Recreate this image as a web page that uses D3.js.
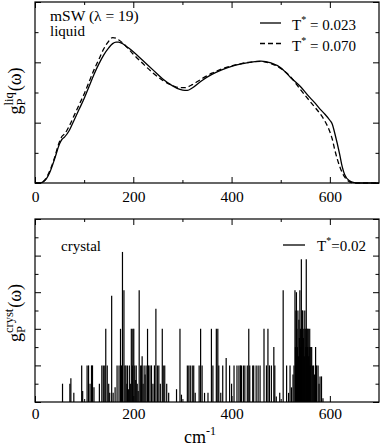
<!DOCTYPE html>
<html><head><meta charset="utf-8">
<script src="https://cdn.jsdelivr.net/npm/d3@7"></script>
<style>
body{margin:0;background:#fff}
svg text{font-family:"Liberation Serif","DejaVu Serif",serif !important;fill:#000}
</style>
</head><body>
<svg id="c" width="382" height="447"></svg>
<script>
// ---------- DATA ----------
const xTickLabels = [0, 200, 400, 600];
const xMinorTicks = [100, 300, 500];

// liquid panel: frequency grid (cm^-1) and two temperature curves
const liqFreq = [0,10,20,30,40,50,55,60,70,80,90,100,110,120,130,140,150,158,165,170,
  180,190,200,220,240,260,280,295,305,310,320,340,360,380,400,420,440,460,480,500,
  520,540,560,570,580,590,600,605,610,620,625,630,640,650,655,660,700];
const liqT0023 = [0,0,0.08,0.35,0.8,1.3,1.45,1.52,1.75,2.1,2.45,2.8,3.2,3.6,3.95,4.25,4.48,4.62,4.67,4.67,
  4.6,4.48,4.35,4.05,3.75,3.45,3.22,3.1,3.07,3.07,3.15,3.4,3.6,3.75,3.87,3.95,4.01,4.04,3.98,3.82,
  3.5,3.2,2.82,2.65,2.45,2.28,2.08,1.95,1.65,0.95,0.55,0.28,0.07,0.01,0,0,0];
const liqT0070 = [0,0,0.1,0.4,0.85,1.38,1.55,1.62,1.9,2.25,2.6,2.95,3.35,3.75,4.1,4.45,4.7,4.82,4.8,4.75,
  4.62,4.45,4.27,3.95,3.65,3.4,3.23,3.16,3.16,3.18,3.26,3.46,3.64,3.78,3.88,3.96,4.01,4.03,3.96,3.8,
  3.52,3.1,2.7,2.5,2.3,2.05,1.7,1.45,1.1,0.55,0.35,0.2,0.04,0,0,0,0];

// crystal panel: spike positions (cm^-1) and heights
const crystFreq = [56,71,73,79,95,97,106,109,112,115,117,120,131,136,139,142,144,147,150,152,
  156,159,163,167,171,174,176,178,181,183,185,187,188,190,192,194,196,198,199,201,
  203,205,206,208,210,212,215,217,218,220,222,224,226,229,231,234,237,240,243,246,
  249,252,255,259,261,264,268,272,288,295,298,310,313,316,320,323,326,334,337,340,
  345,352,359,362,369,372,374,378,382,389,396,400,405,411,415,418,420,424,427,432,
  435,437,443,445,450,454,458,466,471,474,477,481,486,488,491,498,505,512,516,519,
  522,525,527,529,530,531,532,533,534,535,536,537,538,539,540,541,542,543,544,545,
  546,547,548,549,550,551,552,553,554,555,556,557,558,559,560,561,563,565,567,569,
  571,573,576,578,580,583,586];
const crystCount = [1,1,1.3,0.5,2,0.6,2,2,1,2,2,0.8,1,2,2,2,4,2,1,0.5,
  5.8,0.5,0.8,2,2,4,2,8.2,6.1,2,2,1,2,0.7,2,1,4,2,4,4,
  2,1.2,2,1,0.6,6.1,2,2,2.5,1,2,1.5,2,4,2,2,2,1,2,5.1,
  2,2,1,4,2,2,1,0.5,0.7,4,0.4,2,2,2,2,2,0.5,2,4,2,
  0.5,0.5,4,2,4,4,2,0.5,2,2.4,2,1,2,2,2,2,2,2,2,2,
  4,2,2,2,2,2,2,4,2,4,2,2,3,2,0.3,0.5,6.1,2,0.5,2,
  0.8,1.5,2,6.1,3,5,6,4,3,5,2.5,4.5,3.5,6.1,4,3,7.8,4,5,5,
  3.5,4,2.5,5,4,3,7.8,4,3,4,4,2.5,3,4,2,3,3,2,2,1.5,
  3,2,2,1,1.4,1.4,0.2];

// ---------- CHART ----------
const FONT = '"Liberation Serif","DejaVu Serif",serif';
const svg = d3.select("#c");
const L = 35, R = 379;
const x = d3.scaleLinear().domain([0, 700]).range([L, R]);
const yTop = d3.scaleLinear().domain([0, 6]).range([183, 2]);
const yBot = d3.scaleLinear().domain([0, 10]).range([402, 219]);

function frame(y, majorY, minorY, labelBase) {
  const [y0, y1] = y.range();
  const g = svg.append("g");
  const ax = d3.axisBottom(x).tickValues(xTickLabels).tickSize(-6).tickPadding(0).tickFormat(d3.format("d"));
  const gb = g.append("g").attr("transform", `translate(0,${y0})`).call(ax);
  gb.attr("font-family", FONT);
  gb.selectAll("text").attr("font-size", 15.5).attr("dy", null).attr("y", labelBase - y0);
  g.append("g").attr("transform", `translate(0,${y0})`)
    .call(d3.axisBottom(x).tickValues(xMinorTicks).tickSize(-3).tickFormat(""));
  g.append("g").attr("transform", `translate(0,${y1})`)
    .call(d3.axisTop(x).tickValues(xTickLabels).tickSize(-6).tickFormat(""));
  g.append("g").attr("transform", `translate(0,${y1})`)
    .call(d3.axisTop(x).tickValues(xMinorTicks).tickSize(-3).tickFormat(""));
  g.append("g").attr("transform", `translate(${L},0)`)
    .call(d3.axisLeft(y).tickValues(majorY).tickSize(-6).tickFormat(""));
  g.append("g").attr("transform", `translate(${L},0)`)
    .call(d3.axisLeft(y).tickValues(minorY).tickSize(-3.5).tickFormat(""));
  g.append("g").attr("transform", `translate(${R},0)`)
    .call(d3.axisRight(y).tickValues(majorY).tickSize(-6).tickFormat(""));
  g.append("g").attr("transform", `translate(${R},0)`)
    .call(d3.axisRight(y).tickValues(minorY).tickSize(-3.5).tickFormat(""));
  g.selectAll(".domain").remove();
  g.selectAll("line").attr("stroke", "#000").attr("stroke-width", 1);
  g.append("rect").attr("x", L).attr("y", y1).attr("width", R - L).attr("height", y0 - y1)
    .attr("fill", "none").attr("stroke", "#000").attr("stroke-width", 1.2);
}

// ---- liquid panel
const line = d3.line().x((d, i) => x(liqFreq[i])).curve(d3.curveMonotoneX);
svg.append("path").datum(liqT0023).attr("fill", "none").attr("stroke", "#000").attr("stroke-width", 1.3)
  .attr("d", line.y(d => yTop(d)));
svg.append("path").datum(liqT0070).attr("fill", "none").attr("stroke", "#000").attr("stroke-width", 1.3)
  .attr("stroke-dasharray", "5,3").attr("d", line.y(d => yTop(d)));
frame(yTop, [0, 2, 4, 6], [1, 3, 5], 202);

// ---- crystal panel
svg.append("g").selectAll("line").data(crystFreq).join("line")
  .attr("x1", d => x(d)).attr("x2", d => x(d))
  .attr("y1", yBot(0)).attr("y2", (d, i) => yBot(crystCount[i]))
  .attr("stroke", "#000").attr("stroke-width", 1.2);
frame(yBot, [0, 2, 4, 6, 8, 10], [1, 3, 5, 7, 9], 419);

// ---- annotations
svg.append("text").attr("x", 50).attr("y", 20.5).attr("font-size", 15.5).text("mSW (λ = 19)");
svg.append("text").attr("x", 50).attr("y", 35.5).attr("font-size", 15).text("liquid");
svg.append("text").attr("x", 61).attr("y", 251).attr("font-size", 15).text("crystal");

function legendEntry(x1, x2, ly, tx, ty, label, dash) {
  const l = svg.append("line").attr("x1", x1).attr("x2", x2).attr("y1", ly).attr("y2", ly)
    .attr("stroke", "#000").attr("stroke-width", 1.3);
  if (dash) l.attr("stroke-dasharray", "5,3");
  const t = svg.append("text").attr("x", tx).attr("y", ty).attr("font-size", 15);
  t.append("tspan").text("T");
  t.append("tspan").attr("font-size", 10).attr("dy", -7).text("*");
  t.append("tspan").attr("dy", 7).text(label);
}
legendEntry(260, 281, 23, 292, 30, " = 0.023", false);
legendEntry(260, 281, 43.5, 292, 51, " = 0.070", true);
legendEntry(283, 305, 245, 317, 251, "=0.02", false);

// x title
const xt = svg.append("text").attr("x", 184).attr("y", 443).attr("font-size", 18);
xt.append("tspan").text("cm");
xt.append("tspan").attr("font-size", 12).attr("dy", -8).text("-1");

// y titles
function ylabel(baseX, centerY, sup) {
  const g = svg.append("g");
  const t1 = g.append("text").attr("font-size", 18).text("g");
  const w1 = t1.node().getComputedTextLength();
  const tp = g.append("text").attr("font-size", 12.5).attr("x", w1).attr("y", 4).text("P");
  const ts = g.append("text").attr("font-size", 12.5).attr("x", w1).attr("y", -8.5).text(sup);
  const w2 = Math.max(tp.node().getComputedTextLength(), ts.node().getComputedTextLength());
  const t3 = g.append("text").attr("font-size", 18).attr("x", w1 + w2 + 1).text("(ω)");
  const total = w1 + w2 + 1 + t3.node().getComputedTextLength();
  g.attr("transform", `translate(${baseX},${centerY + total / 2}) rotate(-90)`);
}
ylabel(21, 91, "liq");
ylabel(21, 313, "cryst");

svg.selectAll("text").attr("font-family", FONT);
</script>
</body></html>
